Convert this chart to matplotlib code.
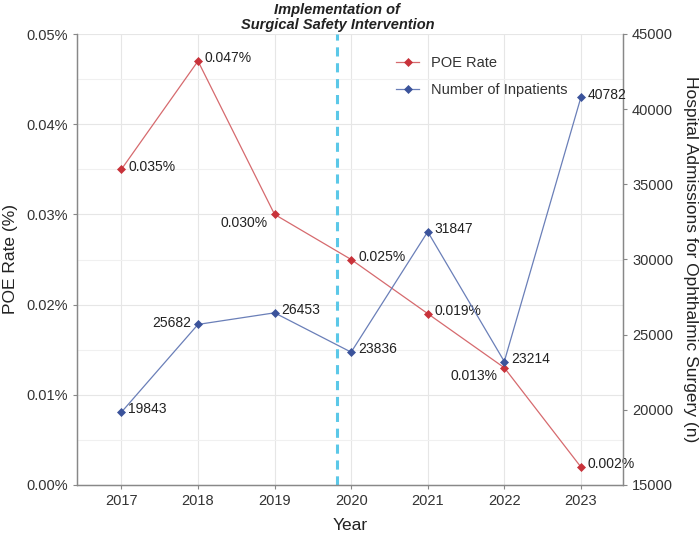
import matplotlib
matplotlib.use("Agg")
import matplotlib.pyplot as plt
from matplotlib.ticker import FuncFormatter, MultipleLocator

years = [2017, 2018, 2019, 2020, 2021, 2022, 2023]
poe_rate = [0.035, 0.047, 0.030, 0.025, 0.019, 0.013, 0.002]
inpatients = [19843, 25682, 26453, 23836, 31847, 23214, 40782]
poe_labels = ["0.035%", "0.047%", "0.030%", "0.025%", "0.019%", "0.013%", "0.002%"]
intervention_x = 2019.82

red = "#c8323a"
blue = "#3b539b"
red_line = "#d66a6e"
blue_line = "#6a7fb8"

plt.rcParams['font.family'] = ['Liberation Sans', 'DejaVu Sans']

fig = plt.figure(figsize=(7.0, 5.34), dpi=100)
ax = fig.add_axes([77/700, 1-485/534, (623-77)/700, (485-34)/534])
ax2 = ax.twinx()

ax.set_xlim(2016.42, 2023.55)
ax.set_ylim(0, 0.05)
ax2.set_ylim(15000, 45000)

ax.yaxis.set_major_locator(MultipleLocator(0.01))
ax.yaxis.set_minor_locator(MultipleLocator(0.005))
ax.set_xticks(years)
ax.yaxis.set_major_formatter(FuncFormatter(lambda v, p: f"{v:.2f}%"))
ax2.yaxis.set_major_locator(MultipleLocator(5000))

ax.grid(True, which='major', color='#e6e6e6', lw=0.8)
ax.grid(True, which='minor', axis='y', color='#f0f0f0', lw=0.8)
ax.tick_params(which='minor', length=0)
ax.set_axisbelow(True)

for a in (ax, ax2):
    a.spines['top'].set_visible(False)
    for s in ('left', 'right', 'bottom'):
        a.spines[s].set_color('#888888')
        a.spines[s].set_linewidth(0.9)
    a.tick_params(which='major', colors='#888888', labelcolor='#333333', labelsize=10.5, length=3)

ax.axvline(intervention_x, color='#5bc8e8', ls=(0, (3, 2.2)), lw=2.2, zorder=1)

ax.plot(years, poe_rate, color=red_line, lw=0.9, marker='D', ms=4.2, mfc=red, mec=red, mew=0.5, label='POE Rate', zorder=3)
ax.plot([], [], color=blue_line, lw=0.9, marker='D', ms=4.2, mfc=blue, mec=blue, mew=0.5, label='Number of Inpatients')
ax2.plot(years, inpatients, color=blue_line, lw=0.9, marker='D', ms=4.2, mfc=blue, mec=blue, mew=0.5, zorder=3)

left_poe = {2019, 2022}
for x, y, t in zip(years, poe_rate, poe_labels):
    if x in left_poe:
        ax.annotate(t, (x, y), xytext=(-5, -6), textcoords='offset points', ha='right', va='center', fontsize=10, color='#222222')
    else:
        ax.annotate(t, (x, y), xytext=(5, 2), textcoords='offset points', ha='left', va='center', fontsize=10, color='#222222')

for x, y in zip(years, inpatients):
    if x == 2018:
        ax2.annotate(str(y), (x, y), xytext=(-5, 1), textcoords='offset points', ha='right', va='center', fontsize=10, color='#222222')
    else:
        ax2.annotate(str(y), (x, y), xytext=(5, 2), textcoords='offset points', ha='left', va='center', fontsize=10, color='#222222')

ax.set_xlabel('Year', fontsize=12.5, color='#222222', labelpad=7)
ax.set_ylabel('POE Rate (%)', fontsize=12.5, color='#222222', labelpad=6)
ax2.set_ylabel('Hospital Admissions for Ophthalmic Surgery (n)', fontsize=12.5, color='#222222', rotation=270, labelpad=18)

ax.text(intervention_x, 1.005, 'Implementation of\nSurgical Safety Intervention', transform=ax.get_xaxis_transform(),
        ha='center', va='bottom', fontsize=10.5, fontweight='bold', fontstyle='italic', color='#222222', linespacing=1.1)

leg = ax.legend(loc='upper left', bbox_to_anchor=(0.56, 0.98), frameon=False, fontsize=10.5, handlelength=1.6, labelspacing=0.9)
for t in leg.get_texts():
    t.set_color('#333333')

fig.savefig('out.png', dpi=100)
